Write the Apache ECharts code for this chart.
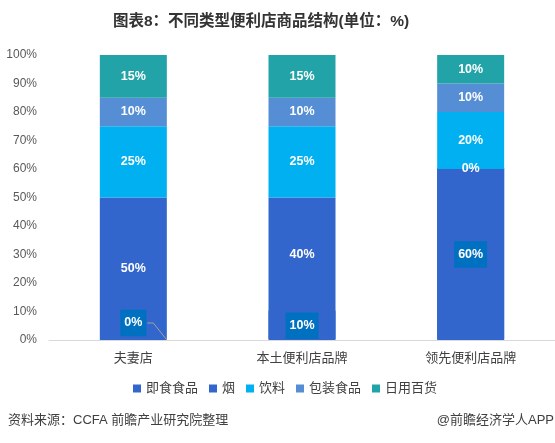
<!DOCTYPE html>
<html>
<head>
<meta charset="utf-8">
<script src="https://cdn.jsdelivr.net/npm/echarts@6/dist/echarts.min.js"></script>
<style>
  html, body { margin: 0; padding: 0; background: #fff; }
  #chart { width: 555px; height: 443px; }
</style>
</head>
<body>
<div id="chart"></div>
<script>
const categories = ['夫妻店', '本土便利店品牌', '领先便利店品牌'];
const legendOrder = ['即食食品', '烟', '饮料', '包装食品', '日用百货'];
// stacking order bottom -> top
const smoke = [0, 10, 60];
const readyFood = [50, 40, 0];
const drinks = [25, 25, 20];
const packagedFood = [10, 10, 10];
const dailyGoods = [15, 15, 10];

const FONT = '"Liberation Sans", "Noto Sans CJK SC", sans-serif';
const BAR_W = 67;
const labelBase = {
  show: true,
  position: 'inside',
  formatter: '{c}%',
  color: '#fff',
  fontWeight: 'bold',
  fontSize: 12.5,
  fontFamily: FONT
};

function bar(name, data, color, extra) {
  return Object.assign({
    name: name,
    type: 'bar',
    stack: 'total',
    barWidth: BAR_W,
    data: data,
    itemStyle: { color: color },
    label: labelBase
  }, extra || {});
}

const chart = echarts.init(document.getElementById('chart'));
chart.setOption({
  animation: false,
  title: {
    text: '图表8：不同类型便利店商品结构(单位：%)',
    left: 108,
    top: 9,
    textStyle: { fontSize: 15.5, fontWeight: 'bold', color: '#333', fontFamily: FONT }
  },
  grid: { left: 49, right: 0, top: 55, bottom: 103 },
  legend: {
    data: legendOrder,
    bottom: 43,
    left: 128,
    itemWidth: 8,
    itemHeight: 8,
    itemGap: 11,
    icon: 'rect',
    textStyle: { fontSize: 13, color: '#404040', fontFamily: FONT }
  },
  xAxis: {
    type: 'category',
    data: categories,
    axisLine: { lineStyle: { color: '#d9d9d9' } },
    axisTick: { show: false },
    axisLabel: { fontSize: 13, color: '#404040', margin: 12, fontFamily: FONT }
  },
  yAxis: {
    type: 'value',
    min: 0,
    max: 100,
    interval: 10,
    axisLine: { show: false },
    axisTick: { show: false },
    splitLine: { show: false },
    axisLabel: { formatter: '{value}%', fontSize: 12, color: '#595959', margin: 12, fontFamily: FONT }
  },
  series: [
    bar('烟', smoke, '#3366cc', {
      // a 1px upward copy hides the anti-aliased seam against the same-coloured segment above
      itemStyle: { color: '#3366cc', shadowColor: '#3366cc', shadowBlur: 0, shadowOffsetY: -1 },
      label: Object.assign({}, labelBase, {
        backgroundColor: '#0070c0',
        padding: [7, 4],
        shadowColor: 'transparent'
      }),
      labelLayout: function (p) {
        if (p.dataIndex === 0) return { dy: -17 };
        return {};
      }
    }),
    bar('即食食品', readyFood, '#3366cc'),
    bar('饮料', drinks, '#00b0f0'),
    bar('包装食品', packagedFood, '#558ed5'),
    bar('日用百货', dailyGoods, '#21a3a8')
  ],
  graphic: [
    {
      type: 'text', left: 8, top: 414,
      style: { text: '资料来源：CCFA 前瞻产业研究院整理', fill: '#404040', font: '13px ' + FONT }
    },
    {
      type: 'text', right: 1, top: 414,
      style: { text: '@前瞻经济学人APP', fill: '#404040', font: '13px ' + FONT }
    }
  ]
});

// leader line from the lifted 0% label down to its zero-height bar
const base = chart.convertToPixel({ gridIndex: 0 }, [categories[0], smoke[0]]);
const ly = base[1] - 17;
chart.setOption({
  graphic: [{
    id: 'leader',
    type: 'polyline',
    shape: { points: [[base[0] + 14, ly], [base[0] + 20, ly], [base[0] + BAR_W / 2, base[1]]] },
    style: { stroke: '#a0a0a0', lineWidth: 1, fill: null },
    z: 10
  }]
});
</script>
</body>
</html>
